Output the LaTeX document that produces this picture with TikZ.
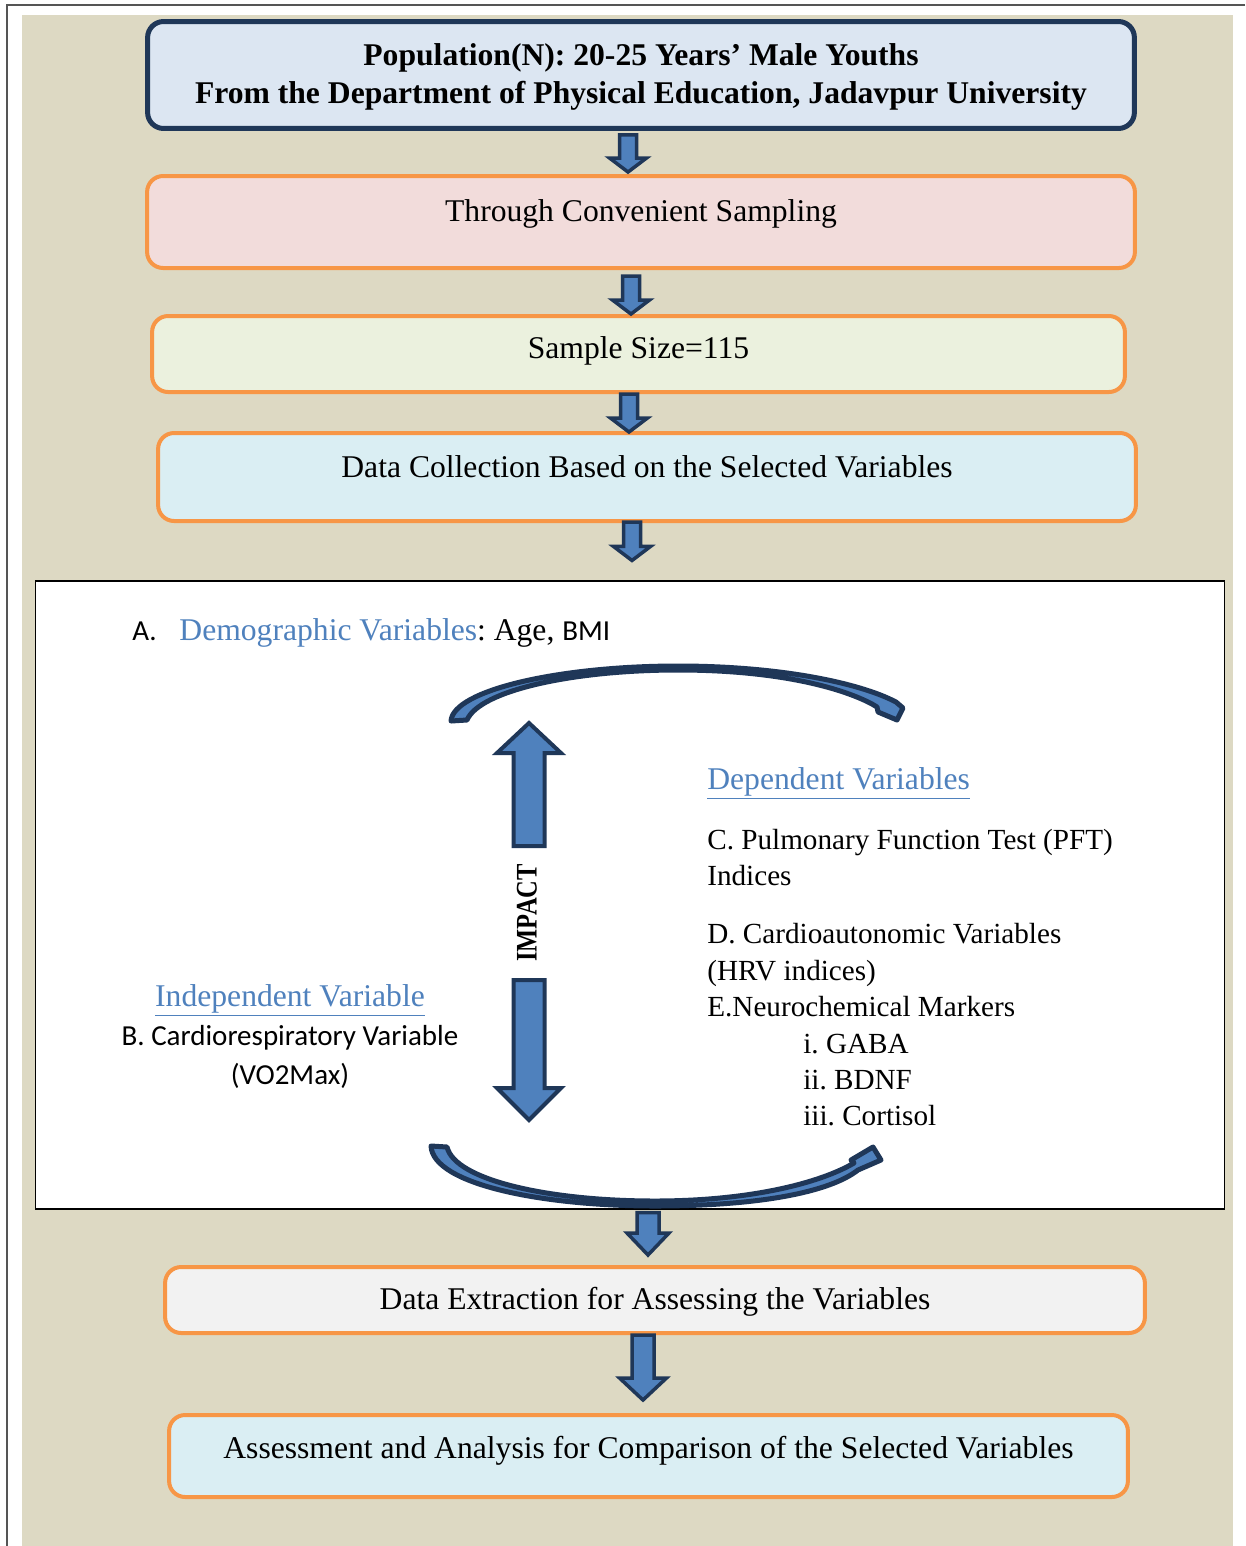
\documentclass[tikz,border=0pt]{standalone}
\usepackage{fontspec}
\usepackage{graphicx}
\setmainfont{Liberation Serif}
\newfontfamily\calibri{Carlito}
\usetikzlibrary{calc}
\frenchspacing

\definecolor{bgbeige}{RGB}{221,217,195}
\definecolor{navy}{RGB}{31,55,88}
\definecolor{orangeline}{RGB}{247,150,70}
\definecolor{accent}{RGB}{79,129,189}
\definecolor{popfill}{RGB}{220,230,242}
\definecolor{sampfill}{RGB}{242,220,219}
\definecolor{sizefill}{RGB}{235,241,222}
\definecolor{collfill}{RGB}{218,238,243}
\definecolor{extrfill}{RGB}{242,242,242}
\definecolor{framegray}{RGB}{85,85,85}

% one pixel of the page
\newcommand{\px}{0.02cm}
% block arrow: [border] {tail} {tip} {shaft half} {head half} {head length}
\newcommand{\flowarrow}[6][3.5]{%
  \draw[blockarrow, line width=#1*\px] let \p1=(#2), \p2=(#3) in
    ({\x1-#4*\px},{\y1}) -- ({\x1+#4*\px},{\y1}) -- ({\x1+#4*\px},{\y2+(#6)*\px})
    -- ({\x1+#5*\px},{\y2+(#6)*\px}) -- ({\x1},{\y2}) -- ({\x1-#5*\px},{\y2+(#6)*\px})
    -- ({\x1-#4*\px},{\y2+(#6)*\px}) -- cycle;}

\tikzset{
  flowbox/.style={draw=orangeline, line width=4*\px, rounded corners=0.32cm,
    inner sep=0pt, font=\fontsize{18}{21.6}\selectfont, text height=12pt},
  popbox/.style={flowbox, draw=navy, line width=5*\px, fill=popfill, align=center,
    text height=, font=\bfseries\fontsize{18}{21.6}\selectfont},
  blockarrow/.style={draw=navy, fill=accent},
  curvearrow/.style={draw=navy, fill=accent, line width=5*\px, line join=round},
  bodytext/.style={anchor=base west, inner sep=0pt, font=\fontsize{18}{20.7}\selectfont},
  itemtext/.style={bodytext, font=\fontsize{16.6}{20}\selectfont},
  calitext/.style={anchor=base, inner sep=0pt, font=\calibri\fontsize{16.5}{20}\selectfont}
}

\begin{document}
\begin{tikzpicture}[x=0.02cm, y=-0.02cm]
\useasboundingbox (0,0) rectangle (1245,1546);

%%%%%%%%%%
% Page (background)
%%%%%%%%%%
\fill[bgbeige] (22,15) rectangle (1233,1546);
\draw[framegray, line width=2*\px] (1245,5) -- (7,5) -- (7,1546);

%%%%%%%%%%
% Flow boxes
%%%%%%%%%%
\node[popbox, minimum width=19.74cm, minimum height=2.14cm] (pop) at (641,75)
  {\rule{0pt}{15pt}Population(N): 20-25 Years’ Male Youths\\From the Department of Physical Education, Jadavpur University};
\node[flowbox, fill=sampfill, minimum width=19.76cm, minimum height=1.84cm, text depth=13.1pt] (samp) at (641,222)
  {Through Convenient Sampling};
\node[flowbox, fill=sizefill, minimum width=19.46cm, minimum height=1.52cm, text depth=7.4pt] (size) at (638.5,354)
  {Sample Size=115};
\node[flowbox, fill=collfill, minimum width=19.56cm, minimum height=1.76cm, text depth=12pt] (coll) at (647,477)
  {Data Collection Based on the Selected Variables};
\node[draw=black, fill=white, line width=1.2*\px, minimum width=23.8cm, minimum height=12.56cm, inner sep=0pt] (panel) at (630,895) {};
\node[flowbox, fill=extrfill, minimum width=19.6cm, minimum height=1.32cm, text depth=1.2pt] (extr) at (655,1300)
  {Data Extraction for Assessing the Variables};
\node[flowbox, fill=collfill, minimum width=19.18cm, minimum height=1.64cm, text depth=9.7pt] (assess) at (648.5,1456)
  {Assessment and Analysis for Comparison of the Selected Variables};

% arrows between boxes
\flowarrow{$(pop.south)+(-13,4)$}{$(samp.north)+(0,-2)$}{8.5}{18.5}{14}
\flowarrow{$(samp.south)+(-10,6)$}{$(size.north)+(0,0)$}{8.5}{18.5}{14}
\flowarrow{$(size.south)+(-9.5,0)$}{$(coll.north)+(0,1)$}{8.5}{18.5}{14}
\flowarrow{$(coll.south)+(-15,-1)$}{$(panel.north)+(0,-20)$}{8.5}{18.5}{14}
\flowarrow{$(panel.south)+(18,3)$}{$(extr.north)+(0,-10)$}{11}{21}{22}
\flowarrow{$(extr.south)+(-12,0)$}{$(assess.north)+(0,-13)$}{11}{23.5}{22}

%%%%%%%%%%
% Variables panel
%%%%%%%%%%
\node[bodytext] (demo) at (132,640)
  {{\calibri\fontsize{16.5}{20}\selectfont A.}\hspace{13pt}\textcolor{accent}{Demographic Variables}: Age, {\calibri\fontsize{16.5}{20}\selectfont BMI}};

% curved arrows
\filldraw[curvearrow] (451,721) .. controls (453,690) and (560,666) .. (678,666)
  .. controls (780,666) and (860,683) .. (896,702)
  -- (903,708) -- (897,720) -- (878,712) -- (877,707) -- (872,704)
  .. controls (840,687) and (775,670) .. (678,670)
  .. controls (575,670) and (480,690) .. (467,720) -- cycle;
\filldraw[curvearrow] (431,1146) .. controls (433,1185) and (545,1206) .. (655,1206)
  .. controls (760,1206) and (830,1192) .. (858,1170)
  -- (881,1160) -- (873,1147) -- (851,1160) -- (854,1163)
  .. controls (820,1183) and (750,1201) .. (655,1201)
  .. controls (548,1201) and (455,1180) .. (447,1147) -- cycle;

% impact arrows
\coordinate (uptail) at (529,846);
\coordinate (uptip) at (529,723);
\coordinate (dntail) at (529,980);
\coordinate (dntip) at (529,1120);
\flowarrow[4]{uptail}{uptip}{15.5}{32}{-30}
\flowarrow[4]{dntail}{dntip}{15.5}{32}{32}
\node[rotate=90, inner sep=0pt, font=\bfseries\fontsize{17}{17}\selectfont] (impact) at (527,913)
  {\scalebox{0.82}[1]{IMPACT}};

% independent side
\node[bodytext, anchor=base] (indep) at (290,1006) {\textcolor{accent}{\underline{Independent Variable}}};
\node[calitext] (cardio) at (290,1045) {B. Cardiorespiratory Variable};
\node[calitext] (vo2) at (290,1084) {(VO2Max)};

% dependent side
\node[bodytext] (dep) at (707,789) {\textcolor{accent}{\underline{Dependent Variables}}};
\foreach \x/\y/\lab in {
707/849/{C. Pulmonary Function Test (PFT)},
707/885/{Indices},
707/943/{D. Cardioautonomic Variables},
707/980/{(HRV indices)},
707/1016/{E.Neurochemical Markers},
803/1053/{i. GABA},
803/1089/{ii. BDNF},
803/1125/{iii. Cortisol}
} {
\node[itemtext] (dv\y) at (\x,\y) {\lab};
}

\end{tikzpicture}
\end{document}
